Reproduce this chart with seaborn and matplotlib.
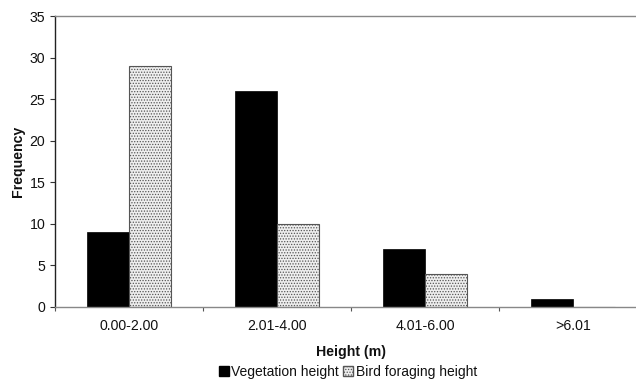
import matplotlib
matplotlib.use("Agg")
import matplotlib.pyplot as plt
from matplotlib.patches import Patch
import seaborn as sns
import pandas as pd

categories = ["0.00-2.00", "2.01-4.00", "4.01-6.00", ">6.01"]
vegetation = [9, 26, 7, 1]
bird_foraging = [29, 10, 4, 0]
series_names = ["Vegetation height", "Bird foraging height"]

df = pd.DataFrame({
    "Height": categories * 2,
    "Frequency": vegetation + bird_foraging,
    "Series": [series_names[0]] * len(categories) + [series_names[1]] * len(categories),
})

sns.set_style("white")
plt.rcParams["font.family"] = ["Liberation Sans", "DejaVu Sans"]
plt.rcParams["hatch.linewidth"] = 0.6
plt.rcParams["hatch.color"] = "#8a8a8a"

fig = plt.figure(figsize=(6.36, 3.8), dpi=100)
ax = fig.add_axes([55 / 636, 73 / 380, 592 / 636, 291 / 380])

sns.barplot(data=df, x="Height", y="Frequency", hue="Series", order=categories,
            hue_order=series_names, palette=["black", "#eeeeee"], width=0.57,
            ax=ax, legend=False, errorbar=None, saturation=1)

n = len(categories)
for i, p in enumerate(ax.patches[:2 * n]):
    if i >= n:
        p.set_hatch("......")
        p.set_edgecolor("#555555")
        p.set_linewidth(0.8)
    else:
        p.set_edgecolor("black")
        p.set_linewidth(0.5)

ax.set_xlim(-0.5, n - 0.5)
ax.set_ylim(0, 35)
ax.set_yticks(range(0, 36, 5))
ax.set_xticks([i - 0.5 for i in range(n + 1)])
ax.set_xticklabels([])
ax.set_xticks(range(n), minor=True)
ax.set_xticklabels(categories, minor=True)
ax.tick_params(axis="x", which="major", length=3, width=0.8, color="#555555", direction="out", bottom=True)
ax.tick_params(axis="x", which="minor", length=0, labelsize=10.2, pad=9, labelcolor="#111111")
ax.tick_params(axis="y", length=3.5, width=0.8, color="#333333", direction="out", left=True,
               labelsize=10.2, pad=3.5, labelcolor="#111111")

for side in ["top", "bottom", "left", "right"]:
    ax.spines[side].set_visible(True)
ax.spines["left"].set_color("#222222")
ax.spines["top"].set_color("#888888")
ax.spines["bottom"].set_color("#888888")
ax.spines["right"].set_color("#888888")
for s in ax.spines.values():
    s.set_linewidth(1.0)

ax.set_xlabel("Height (m)", fontsize=10.2, fontweight="bold", labelpad=8, color="#111111")
ax.set_ylabel("Frequency", fontsize=10.2, fontweight="bold", labelpad=3, color="#111111")

handles = [
    Patch(facecolor="black", edgecolor="black", label=series_names[0]),
    Patch(facecolor="#eeeeee", edgecolor="#555555", hatch="......", label=series_names[1]),
]
leg = fig.legend(handles=handles, loc="center", bbox_to_anchor=(348 / 636, 1 - 372 / 380), ncol=2,
                 frameon=False, fontsize=10, handlelength=0.7, handleheight=0.7,
                 handletextpad=0.2, columnspacing=0.3, borderaxespad=0, borderpad=0)
for t in leg.get_texts():
    t.set_color("#111111")

fig.savefig("out.png", dpi=100)
